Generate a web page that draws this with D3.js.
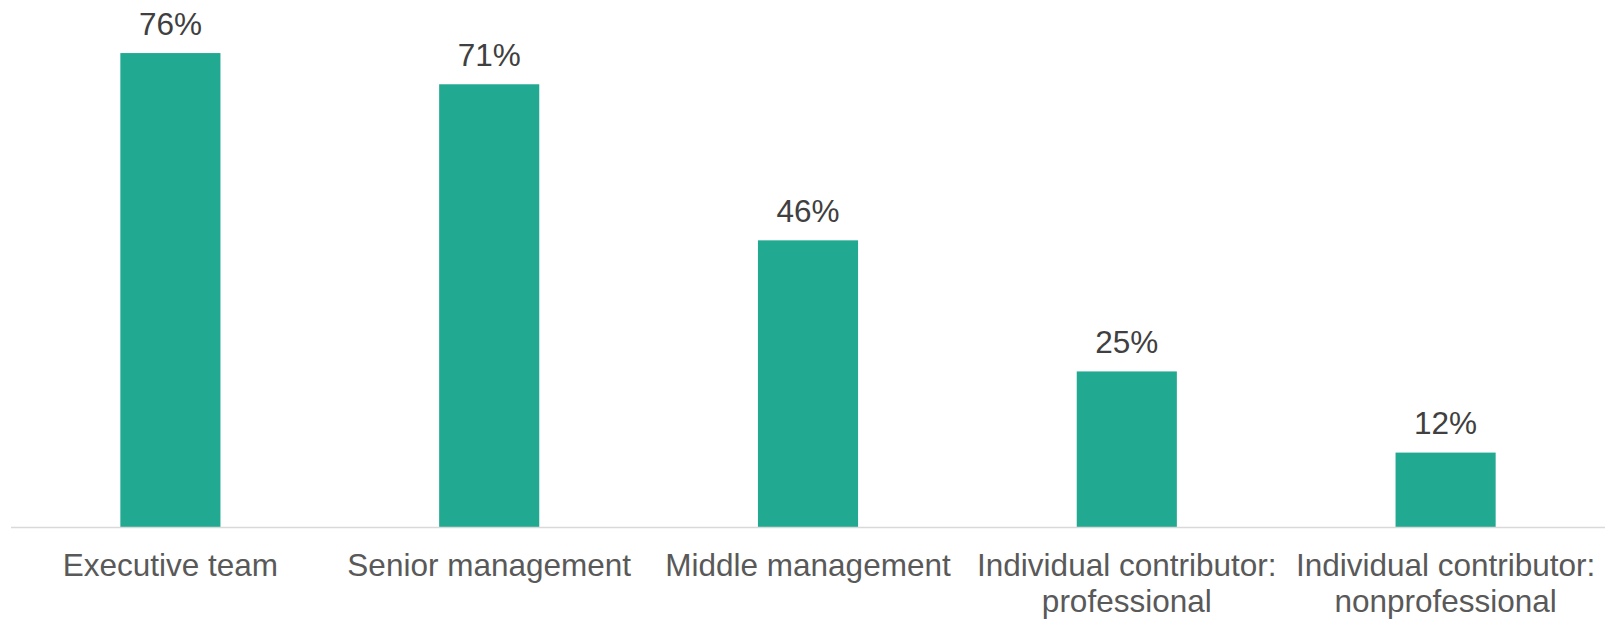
<!DOCTYPE html>
<html>
<head>
<meta charset="utf-8">
<script src="https://cdn.jsdelivr.net/npm/d3@7"></script>
<style>
  html, body { margin: 0; padding: 0; background: #ffffff; }
  svg { display: block; }
</style>
</head>
<body>
<svg id="chart" width="1616" height="619"></svg>
<script>
const categories = [
  ["Executive team"],
  ["Senior management"],
  ["Middle management"],
  ["Individual contributor:", "professional"],
  ["Individual contributor:", "nonprofessional"]
];
const values = [76, 71, 46, 25, 12];
const valueLabels = ["76%", "71%", "46%", "25%", "12%"];

const W = 1616, H = 619;
const left = 11, right = 1605, baseY = 527.5;
const svg = d3.select("#chart");
const fontFamily = "'Liberation Sans', Arial, Helvetica, sans-serif";

const idx = d3.range(values.length);
const x = d3.scaleBand()
  .domain(idx)
  .range([left, right])
  .paddingInner(0.686)
  .paddingOuter(0.343);

const y = d3.scaleLinear().domain([0, 84.5]).range([baseY, 0]);

// bars
svg.append("g").selectAll("rect")
  .data(idx)
  .join("rect")
  .attr("x", i => x(i))
  .attr("y", i => y(values[i]))
  .attr("width", x.bandwidth())
  .attr("height", i => baseY - y(values[i]))
  .attr("fill", "#22a991");

// axis line
const axis = d3.axisBottom(x).tickSize(0).tickFormat("");
const axisG = svg.append("g").attr("transform", `translate(0,${baseY})`).call(axis);
axisG.select(".domain").attr("stroke", "#d9d9d9").attr("stroke-width", 1.5)
  .attr("d", `M${left},0H${right}`);

// value labels
svg.append("g").selectAll("text")
  .data(idx)
  .join("text")
  .attr("x", i => x(i) + x.bandwidth() / 2)
  .attr("y", i => y(values[i]) - 18.5)
  .attr("text-anchor", "middle")
  .attr("font-family", fontFamily)
  .attr("font-size", "31.5px")
  .attr("fill", "#404040")
  .text(i => valueLabels[i]);

// category labels
const cat = svg.append("g").selectAll("text")
  .data(idx)
  .join("text")
  .attr("x", i => x(i) + x.bandwidth() / 2)
  .attr("y", baseY + 48.5)
  .attr("text-anchor", "middle")
  .attr("font-family", fontFamily)
  .attr("font-size", "31.5px")
  .attr("fill", "#595959");
cat.each(function(i) {
  const t = d3.select(this);
  categories[i].forEach((line, k) => {
    t.append("tspan")
      .attr("x", x(i) + x.bandwidth() / 2)
      .attr("dy", k === 0 ? 0 : 36)
      .text(line);
  });
});
</script>
</body>
</html>
